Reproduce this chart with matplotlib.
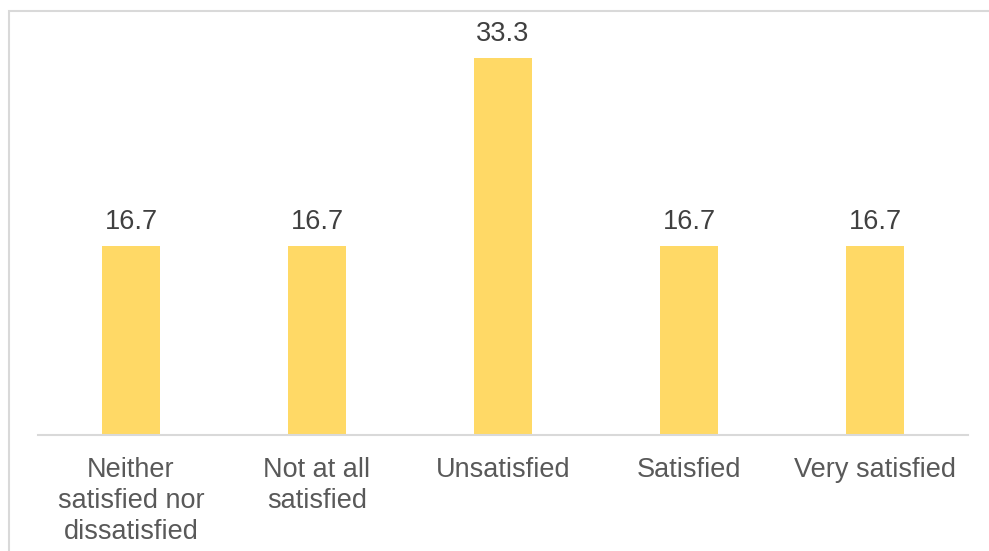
import matplotlib
matplotlib.use("Agg")
import matplotlib.pyplot as plt
from matplotlib.patches import Rectangle

categories = ["Neither\nsatisfied nor\ndissatisfied", "Not at all\nsatisfied", "Unsatisfied", "Satisfied", "Very satisfied"]
values = [16.7, 16.7, 33.3, 16.7, 16.7]
labels = ["16.7", "16.7", "33.3", "16.7", "16.7"]

plt.rcParams['font.family'] = ['Liberation Sans', 'DejaVu Sans']

W, H = 989, 551
fig = plt.figure(figsize=(W / 100, H / 100), dpi=100)

# outer border
fig.patches.append(Rectangle((8.5 / W, -0.1), 1.2, (H - 10.5) / H + 0.1, transform=fig.transFigure,
                             fill=False, edgecolor="#D9D9D9", linewidth=1.5))

ax_left, ax_right = 38 / W, 968 / W
ax_bottom = (H - 435) / H
ax_top_px = 20
ax = fig.add_axes([ax_left, ax_bottom, ax_right - ax_left, (435 - ax_top_px) / H])

x = list(range(len(categories)))
ax.bar(x, values, width=0.312, color="#FFD966", zorder=2)
ax.set_xlim(-0.5, len(categories) - 0.5)
# 33.3 maps to 377 px above baseline
ppu = 377 / 33.3
ax.set_ylim(0, (435 - ax_top_px) / ppu)

for xi, v, lab in zip(x, values, labels):
    ax.annotate(lab, (xi, v), xytext=(0, 12.2), textcoords="offset points",
                ha="center", va="baseline", fontsize=19.5, color="#404040")

ax.set_xticks(x)
ax.set_xticklabels(categories, fontsize=19.5, color="#595959", linespacing=1.25)
ax.tick_params(axis="x", length=0, pad=15.5)
ax.set_yticks([])
for s in ["top", "right", "left"]:
    ax.spines[s].set_visible(False)
ax.spines["bottom"].set_color("#D9D9D9")
ax.spines["bottom"].set_linewidth(1.5)
ax.patch.set_alpha(0)

fig.savefig("out.png", dpi=100)
